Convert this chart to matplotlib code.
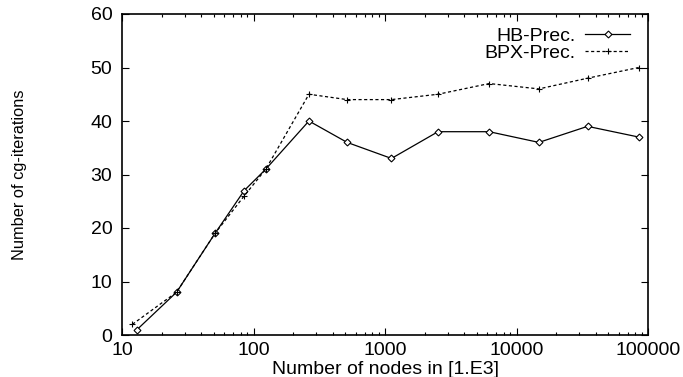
import numpy as np
import matplotlib
matplotlib.use("Agg")
import matplotlib.pyplot as plt

plt.rcParams['font.family'] = ['Liberation Sans', 'DejaVu Sans']

# nodes (in thousands)
hb_nodes = [13, 26, 51, 85, 124, 264, 515, 1120, 2530, 6200, 14800, 34700, 85000]
hb_iters = [1, 8, 19, 27, 31, 40, 36, 33, 38, 38, 36, 39, 37]
bpx_nodes = [12, 26, 51, 85, 124, 264, 515, 1120, 2530, 6200, 14800, 34700, 85000]
bpx_iters = [2, 8, 19, 26, 31, 45, 44, 44, 45, 47, 46, 48, 50]

fig = plt.figure(figsize=(6.83, 3.77), dpi=100)
ax = fig.add_axes([122/683, 1 - 335/377, 526/683, 321/377])

ax.plot(hb_nodes, hb_iters, color='black', lw=0.9, marker='D', ms=3.5,
        mfc='white', mec='black', mew=0.8, label='HB-Prec.')
ax.plot(bpx_nodes, bpx_iters, color='black', lw=0.9, ls=(0, (2.5, 2)),
        marker='+', ms=5, mew=0.8, label='BPX-Prec.')

ax.set_xscale('log')
ax.set_xlim(10, 100000)
ax.set_ylim(0, 60)
ax.set_yticks([0, 10, 20, 30, 40, 50, 60])
ax.set_xticks([10, 100, 1000, 10000, 100000])
ax.set_xticklabels(['10', '100', '1000', '10000', '100000'])

ax.tick_params(which='both', direction='in', top=True, right=True,
               labelsize=14, width=0.8)
ax.tick_params(which='major', length=5)
ax.tick_params(which='minor', length=2.5)
ax.tick_params(axis='x', pad=5)
ax.tick_params(axis='y', pad=7)
for s in ax.spines.values():
    s.set_linewidth(1.2)

ax.set_xlabel('Number of nodes in [1.E3]', fontsize=14, va='center')
ax.xaxis.set_label_coords(0.5, (335 - 369) / 321)
fig.text(20/683, 1 - 175/377, 'Number of cg-iterations', rotation=90,
         fontsize=11.8, ha='center', va='center')

ax.legend(loc='upper right', bbox_to_anchor=(630/683, 1 - 27/377),
          bbox_transform=fig.transFigure, frameon=False, markerfirst=False,
          fontsize=14, handlelength=2.3, borderpad=0, borderaxespad=0,
          labelspacing=0.0, handletextpad=0.5)

fig.savefig('out.png', dpi=100)
